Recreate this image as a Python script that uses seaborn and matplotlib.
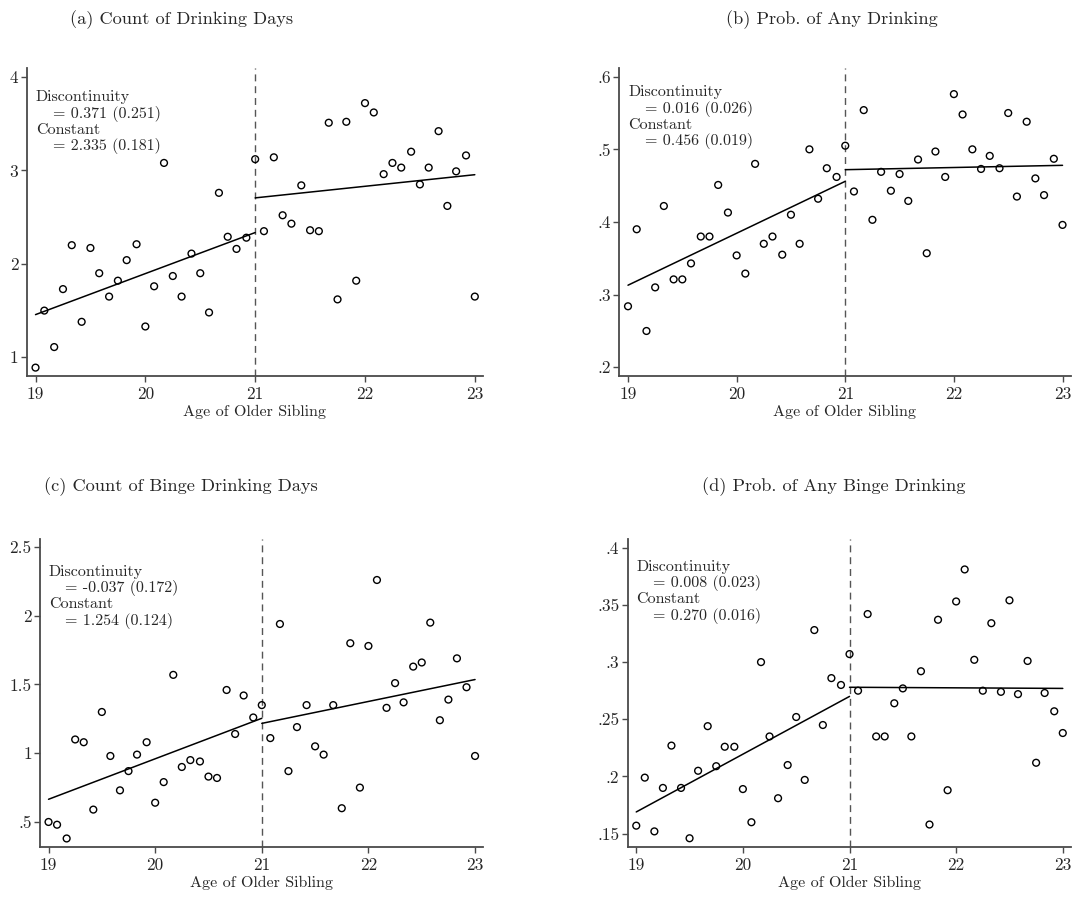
import numpy as np
import pandas as pd
import matplotlib
matplotlib.use("Agg")
import matplotlib.pyplot as plt
import seaborn as sns

# age bins (monthly) of the older sibling
ages = [19.00, 19.08, 19.17, 19.25, 19.33, 19.42, 19.50, 19.58, 19.67, 19.75,
        19.83, 19.92, 20.00, 20.08, 20.17, 20.25, 20.33, 20.42, 20.50, 20.58,
        20.67, 20.75, 20.83, 20.92, 21.00, 21.08, 21.17, 21.25, 21.33, 21.42,
        21.50, 21.58, 21.67, 21.75, 21.83, 21.92, 22.00, 22.08, 22.17, 22.25,
        22.33, 22.42, 22.50, 22.58, 22.67, 22.75, 22.83, 22.92, 23.00]

# (a) count of drinking days
drink_days = [0.89, 1.50, 1.11, 1.73, 2.20, 1.38, 2.17, 1.90, 1.65, 1.82,
              2.04, 2.21, 1.33, 1.76, 3.08, 1.87, 1.65, 2.11, 1.90, 1.48,
              2.76, 2.29, 2.16, 2.28, 3.12, 2.35, 3.14, 2.52, 2.43, 2.84,
              2.36, 2.35, 3.51, 1.62, 3.52, 1.82, 3.72, 3.62, 2.96, 3.08,
              3.03, 3.20, 2.85, 3.03, 3.42, 2.62, 2.99, 3.16, 1.65]
# (b) prob. of any drinking
any_drink = [0.284, 0.390, 0.250, 0.310, 0.422, 0.321, 0.321, 0.343, 0.380, 0.380,
             0.451, 0.413, 0.354, 0.329, 0.480, 0.370, 0.380, 0.355, 0.410, 0.370,
             0.500, 0.432, 0.474, 0.462, 0.505, 0.442, 0.554, 0.403, 0.469, 0.443,
             0.466, 0.429, 0.486, 0.357, 0.497, 0.462, 0.576, 0.548, 0.500, 0.473,
             0.491, 0.474, 0.550, 0.435, 0.538, 0.460, 0.437, 0.487, 0.396]
# (c) count of binge drinking days
binge_days = [0.50, 0.48, 0.38, 1.10, 1.08, 0.59, 1.30, 0.98, 0.73, 0.87,
              0.99, 1.08, 0.64, 0.79, 1.57, 0.90, 0.95, 0.94, 0.83, 0.82,
              1.46, 1.14, 1.42, 1.26, 1.35, 1.11, 1.94, 0.87, 1.19, 1.35,
              1.05, 0.99, 1.35, 0.60, 1.80, 0.75, 1.78, 2.26, 1.33, 1.51,
              1.37, 1.63, 1.66, 1.95, 1.24, 1.39, 1.69, 1.48, 0.98]
# (d) prob. of any binge drinking
any_binge = [0.157, 0.199, 0.152, 0.190, 0.227, 0.190, 0.146, 0.205, 0.244, 0.209,
             0.226, 0.226, 0.189, 0.160, 0.300, 0.235, 0.181, 0.210, 0.252, 0.197,
             0.328, 0.245, 0.286, 0.280, 0.307, 0.275, 0.342, 0.235, 0.235, 0.264,
             0.277, 0.235, 0.292, 0.158, 0.337, 0.188, 0.353, 0.381, 0.302, 0.275,
             0.334, 0.274, 0.354, 0.272, 0.301, 0.212, 0.273, 0.257, 0.238]

# fitted lines: value at 19 and 21 (left), 21 and 23 (right)
left_ages = [19, 21]
right_ages = [21, 23]
fit_left = [[1.457, 2.335], [0.313, 0.456], [0.665, 1.254], [0.169, 0.270]]
fit_right = [[2.706, 2.954], [0.472, 0.478], [1.217, 1.536], [0.278, 0.277]]

titles = ["(a) Count of Drinking Days", "(b) Prob. of Any Drinking",
          "(c) Count of Binge Drinking Days", "(d) Prob. of Any Binge Drinking"]
disc = ["0.371 (0.251)", "0.016 (0.026)", "-0.037 (0.172)", "0.008 (0.023)"]
const = ["2.335 (0.181)", "0.456 (0.019)", "1.254 (0.124)", "0.270 (0.016)"]

yticks = [[1, 2, 3, 4], [0.2, 0.3, 0.4, 0.5, 0.6], [0.5, 1, 1.5, 2, 2.5],
          [0.15, 0.2, 0.25, 0.3, 0.35, 0.4]]
ytick_labels = [["1", "2", "3", "4"], [".2", ".3", ".4", ".5", ".6"],
                [".5", "1", "1.5", "2", "2.5"], [".15", ".2", ".25", ".3", ".35", ".4"]]
ylims = [(0.8, 4.096), (0.188, 0.612), (0.32, 2.558), (0.1386, 0.4076)]

sns.set_style("ticks")
plt.rcParams['font.family'] = ['cmr10', 'DejaVu Serif']
plt.rcParams['axes.unicode_minus'] = False
plt.rcParams['axes.formatter.use_mathtext'] = True

df = pd.DataFrame({"age": ages, "a": drink_days, "b": any_drink,
                   "c": binge_days, "d": any_binge})

fig = plt.figure(figsize=(10.78, 9.05), dpi=100)
# axes boxes in figure fraction (left, bottom, width, height)
boxes = [(0.0248, 0.5845, 0.4233, 0.3404), (0.5745, 0.5845, 0.4187, 0.3404),
         (0.0371, 0.0644, 0.4110, 0.3400), (0.5823, 0.0644, 0.4110, 0.3400)]
text_top = [0.905, 0.921, 0.894, 0.909]
title_pos = [(0.168, 0.978), (0.772, 0.978), (0.168, 0.462), (0.773, 0.462)]
spine_col = "#4a4a4a"

for i, key in enumerate(["a", "b", "c", "d"]):
    ax = fig.add_axes(boxes[i])
    ax.axvline(21, color="#555555", lw=1.0, ls=(0, (5, 3.5)), zorder=1)
    sns.lineplot(x=left_ages, y=fit_left[i], ax=ax, color="black", lw=1.1)
    sns.lineplot(x=right_ages, y=fit_right[i], ax=ax, color="black", lw=1.1)
    sns.scatterplot(data=df, x="age", y=key, ax=ax, marker="o", s=24,
                    facecolors="none", edgecolor="black", linewidth=1.0, zorder=3)
    ax.set_xlim(18.92, 23.075)
    ax.set_ylim(*ylims[i])
    ax.set_xticks([19, 20, 21, 22, 23])
    ax.set_xticklabels(["19", "20", "21", "22", "23"])
    ax.set_yticks(yticks[i])
    ax.set_yticklabels(ytick_labels[i])
    ax.set_ylabel("")
    ax.set_xlabel("Age of Older Sibling", fontsize=11.5)
    ax.xaxis.set_label_coords(0.5, -0.116)
    ax.xaxis.label.set_va("center")
    ax.tick_params(axis="both", length=4, width=1.0, color=spine_col,
                   labelsize=12.5)
    ax.tick_params(axis="x", pad=4)
    ax.tick_params(axis="y", pad=2)
    for s in ["top", "right"]:
        ax.spines[s].set_visible(False)
    for s in ["left", "bottom"]:
        ax.spines[s].set_color(spine_col)
        ax.spines[s].set_linewidth(1.3)
    ax.set_facecolor("white")

    lines = ["Discontinuity", "= " + disc[i], "Constant", "= " + const[i]]
    for j, t in enumerate(lines):
        xo = 0.02 if j % 2 == 0 else 0.057
        ax.text(xo, text_top[i] - 0.053 * j, t, transform=ax.transAxes,
                fontsize=11.5, va="center", ha="left")

    fig.text(title_pos[i][0], title_pos[i][1], titles[i], fontsize=13.2,
             ha="center", va="center")

plt.savefig("out.png", dpi=100, facecolor="white")
